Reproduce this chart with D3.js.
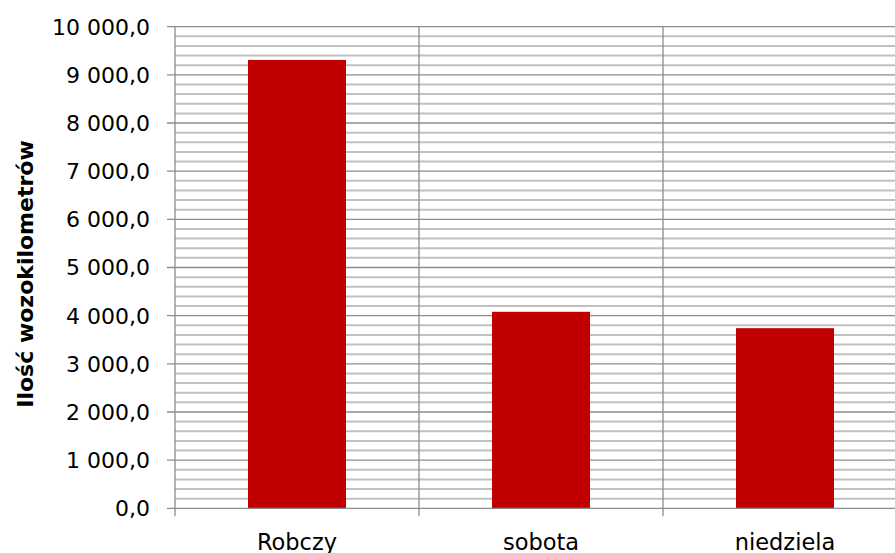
<!DOCTYPE html>
<html><head><meta charset="utf-8">
<script src="https://cdn.jsdelivr.net/npm/d3@7"></script>
<style>body{margin:0;background:#fff;overflow:hidden}svg{display:block}</style>
</head><body>
<script>
const categories = ["Robczy", "sobota", "niedziela"];
const values = [9310, 4080, 3740];
const yTicks = [0,1000,2000,3000,4000,5000,6000,7000,8000,9000,10000];
const axisTitle = "Ilość wozokilometrów";

const W = 895, H = 553;
const m = {left:175, top:26.7, right:-12, bottom:44.7};
const svg = d3.select("body").append("svg").attr("width",W).attr("height",H);
const x = d3.scaleBand().domain(categories).range([m.left, W - m.right]).paddingInner(0).paddingOuter(0);
const y = d3.scaleLinear().domain([0,10000]).range([H - m.bottom, m.top]);
const font = "DejaVu Sans, sans-serif";
const fmt = v => d3.format(",.1f")(v).replace(/,/g," ").replace(".",",");

// minor gridlines
const minor = d3.range(200, 10001, 200).filter(v => v % 1000 !== 0);
svg.append("g").selectAll("line").data(minor).join("line")
  .attr("x1", m.left).attr("x2", W).attr("y1", d=>y(d)).attr("y2", d=>y(d))
  .attr("stroke","#c0c0c0").attr("stroke-width",2);
// major gridlines
svg.append("g").selectAll("line").data(yTicks.filter(d=>d>0)).join("line")
  .attr("x1", m.left-8).attr("x2", W).attr("y1", d=>y(d)).attr("y2", d=>y(d))
  .attr("stroke","#8c8c8c").attr("stroke-width",1.3);
// vertical category gridlines
svg.append("g").selectAll("line").data(categories.slice(1)).join("line")
  .attr("x1", d=>x(d)).attr("x2", d=>x(d)).attr("y1", y(10000)).attr("y2", y(0)+8)
  .attr("stroke","#8c8c8c").attr("stroke-width",1.3);

// bars
const bw = 98;
svg.append("g").selectAll("rect").data(values).join("rect")
  .attr("x", (d,i)=>x(categories[i]) + x.bandwidth()/2 - bw/2)
  .attr("width", bw)
  .attr("y", d=>y(d)).attr("height", d=>y(0)-y(d))
  .attr("fill","#c00000");

// axes lines
svg.append("line").attr("x1",m.left).attr("x2",m.left).attr("y1",y(10000)).attr("y2",y(0)+8)
  .attr("stroke","#8c8c8c").attr("stroke-width",1.3);
svg.append("line").attr("x1",m.left-8).attr("x2",W).attr("y1",y(0)).attr("y2",y(0))
  .attr("stroke","#8c8c8c").attr("stroke-width",1.3);

// y tick labels
svg.append("g").selectAll("text").data(yTicks).join("text")
  .attr("x", 150).attr("y", d=>y(d)).attr("dy","0.36em")
  .attr("text-anchor","end").attr("font-family",font).attr("font-size",22)
  .attr("fill","#000").text(fmt);

// x labels
svg.append("g").selectAll("text").data(categories).join("text")
  .attr("x", d=>x(d)+x.bandwidth()/2).attr("y", 549.5)
  .attr("text-anchor","middle").attr("font-family",font).attr("font-size",22.5)
  .attr("fill","#000").text(d=>d);

// axis title
svg.append("text").attr("transform","translate(33,274) rotate(-90)")
  .attr("text-anchor","middle").attr("font-family",font).attr("font-size",22).attr("font-weight","bold")
  .text(axisTitle);
</script>
</body></html>
